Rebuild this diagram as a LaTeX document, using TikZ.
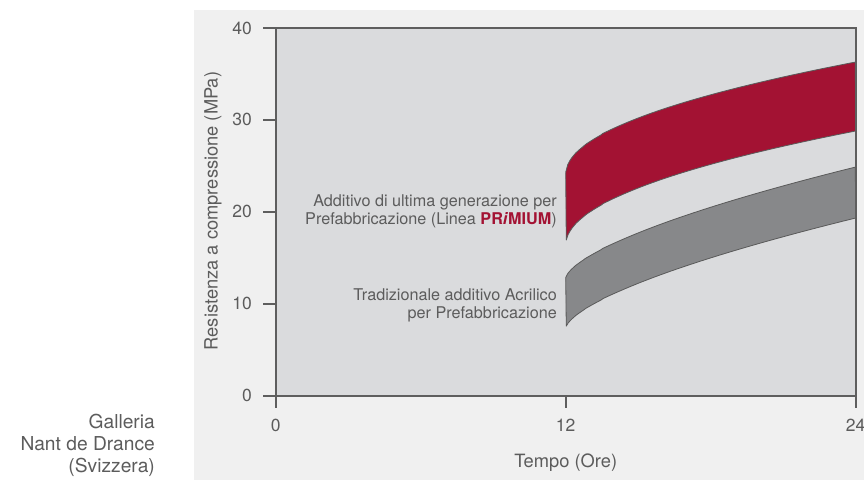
\documentclass[tikz,border=0pt]{standalone}
\usepackage{fontspec}
\setmainfont{TeX Gyre Heros}
\definecolor{panel}{HTML}{F0F0F0}
\definecolor{plotbg}{HTML}{DADBDD}
\definecolor{axiscol}{HTML}{5E5E5E}
\definecolor{txt}{HTML}{5C5C5C}
\definecolor{primred}{HTML}{A31233}
\definecolor{bandgray}{HTML}{87888A}
\definecolor{edgecol}{HTML}{5A5A5A}
\begin{document}
\begin{tikzpicture}[x=1pt,y=-1pt,
  lbl/.style={inner sep=0pt, text=txt, font=\fontsize{16.2}{19}\selectfont},
  numlbl/.style={inner sep=0pt, text=txt, font=\fontsize{17.5}{20}\selectfont},
  titlelbl/.style={inner sep=0pt, text=txt, font=\fontsize{18.3}{21}\selectfont},
  sidelbl/.style={inner sep=0pt, text=txt, font=\fontsize{19.2}{22}\selectfont},
  bandedge/.style={draw=edgecol, line width=0.8pt, line join=round},
  axisline/.style={draw=axiscol, line width=2.4pt},
  tickline/.style={draw=axiscol, line width=2.4pt}]
\useasboundingbox (0,0) rectangle (864,483);
% panels
\fill[panel] (194,10) rectangle (864,480);
\fill[plotbg] (275.7,28) rectangle (855.7,395.7);
% red band
\filldraw[fill=primred, bandedge] (565.7,174)
  -- plot[domain=0.0004:1, samples=150] ({565.7+290*\x},{174-112*(\x)^0.5})
  -- (855.7,131)
  -- plot[domain=1:0.0004, samples=150] ({565.7+290*\x},{245-114*(\x)^0.5})
  -- cycle;
% gray band
\filldraw[fill=bandgray, bandedge] (565.7,278)
  -- plot[domain=0.0004:1, samples=150] ({565.7+290*\x},{278-111*(\x)^0.65})
  -- (855.7,218)
  -- plot[domain=1:0.0004, samples=150] ({565.7+290*\x},{328-110*(\x)^0.65})
  -- cycle;
% frame
\coordinate (tl) at (275.7,28);
\coordinate (tr) at (855.7,28);
\coordinate (bl) at (275.7,395.7);
\coordinate (br) at (855.7,395.7);
\draw[axiscol, line width=2pt] (tl) -- (tr) -- (br);
\draw[axisline, line cap=rect] (tl) -- (bl) -- (br);
% y ticks and labels
\foreach \v/\yy in {0/395.7, 10/303.8, 20/211.9, 30/119.9, 40/28} {
  \coordinate (yt\v) at (263,\yy);
  \draw[tickline] (yt\v) -- (275.7,\yy);
  \node[numlbl, anchor=east] (ylab\v) at (252,\yy) {\v};
}
% x ticks and labels
\foreach \v/\xx in {0/275.7, 12/565.7, 24/855.7} {
  \coordinate (xt\v) at (\xx,407.5);
  \draw[tickline] (\xx,395.7) -- (xt\v);
  \node[numlbl, anchor=center] (xlab\v) at (\xx,425.5) {\v};
}
% axis titles
\node[titlelbl, anchor=base] (xtitle) at (565.7,467.7) {Tempo (Ore)};
\node[titlelbl, anchor=base, rotate=90] (ytitle) at (217.5,211) {Resistenza a compressione (MPa)};
% band labels
\node[lbl, anchor=base east] (newA) at (557,206.7) {Additivo di ultima generazione per};
\node[lbl, anchor=base east] (newB) at (557,224) {Prefabbricazione (Linea {\color{primred}\bfseries PR\textit{i}MIUM})};
\node[lbl, anchor=base east] (oldA) at (557,300.7) {Tradizionale additivo Acrilico};
\node[lbl, anchor=base east] (oldB) at (557,318) {per Prefabbricazione};
% side caption
\node[sidelbl, anchor=base east] (gal1) at (155,428.5) {Galleria};
\node[sidelbl, anchor=base east] (gal2) at (155,450.8) {Nant de Drance};
\node[sidelbl, anchor=base east] (gal3) at (155,472.8) {(Svizzera)};
\end{tikzpicture}
\end{document}
